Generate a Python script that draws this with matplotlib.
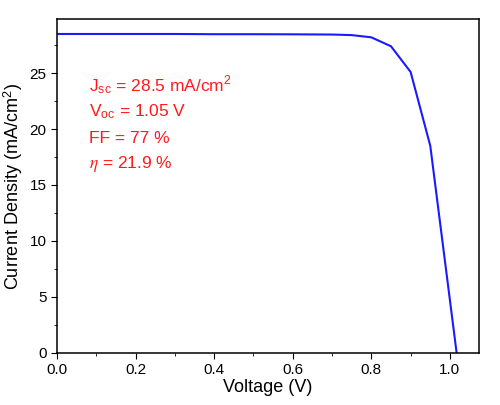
import numpy as np
import matplotlib.pyplot as plt
from matplotlib.ticker import MultipleLocator

plt.rcParams['font.family'] = ['Liberation Sans', 'DejaVu Sans']
plt.rcParams['mathtext.fontset'] = 'stix'

# J-V data
voltage = [0.0, 0.1, 0.2, 0.3, 0.4, 0.5, 0.6, 0.7, 0.75, 0.8, 0.85, 0.9, 0.95, 1.0, 1.017]
current = [28.5, 28.5, 28.5, 28.5, 28.48, 28.48, 28.47, 28.45, 28.4, 28.2, 27.4, 25.1, 18.5, 4.7, 0.0]

params = [r'J$_{\mathregular{sc}}$ = 28.5 mA/cm$^{\mathregular{2}}$',
          r'V$_{\mathregular{oc}}$ = 1.05 V',
          'FF = 77 %',
          r'$\eta$ = 21.9 %']

fig = plt.figure(figsize=(5, 4.05), dpi=100)
ax = fig.add_axes([0.114, 0.129, 0.844, 0.823])
ax.plot(voltage, current, color='#1a1aff', lw=1.5)

ax.set_xlim(0, 1.074)
ax.set_ylim(0, 29.8)
ax.xaxis.set_major_locator(MultipleLocator(0.2))
ax.xaxis.set_minor_locator(MultipleLocator(0.1))
ax.yaxis.set_major_locator(MultipleLocator(5))
ax.yaxis.set_minor_locator(MultipleLocator(2.5))
ax.xaxis.set_major_formatter(plt.FormatStrFormatter('%.1f'))
ax.tick_params(which='both', direction='out', top=False, right=False, labelsize=11)
ax.tick_params(which='major', length=4)
ax.tick_params(which='minor', length=2.5)
for s in ax.spines.values():
    s.set_linewidth(1.1)

ax.set_xlabel('Voltage (V)', fontsize=13, labelpad=1)
ax.set_ylabel(r'Current Density (mA/cm$^{\mathregular{2}}$)', fontsize=13, labelpad=3)

for i, t in enumerate(params):
    ax.text(0.075, 0.80 - i * 0.078, t, transform=ax.transAxes, color='#ff1a1a',
            fontsize=12.5, va='center')

fig.savefig('out.png')
